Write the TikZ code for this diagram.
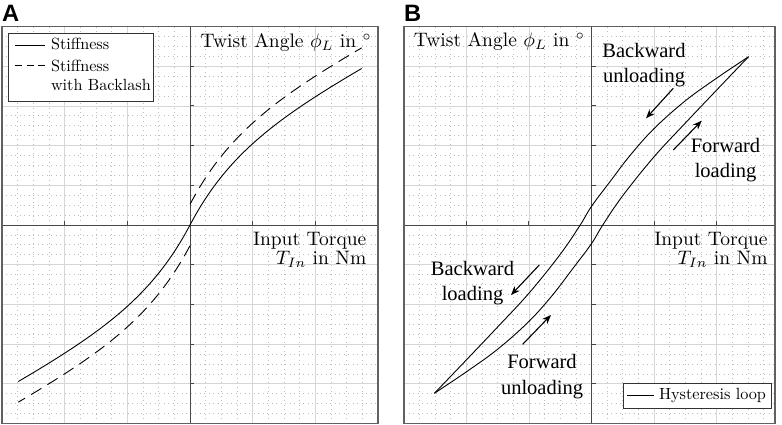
\documentclass[tikz,border=0pt]{standalone}
\usepackage{fontspec}
\newfontfamily\timesfont{Liberation Serif}
\newfontfamily\arialfont{Liberation Sans}
\usetikzlibrary{arrows.meta}
\begin{document}
\begin{tikzpicture}[x=1pt,y=1pt,
  majorgrid/.style={draw=black!16, line width=0.7pt},
  minorgrid/.style={draw=black!26, line width=0.7pt, dash pattern=on 0.7pt off 3.8pt},
  axisline/.style={draw=black!72, line width=0.9pt},
  framebox/.style={draw=black!62, line width=1.4pt},
  curve/.style={draw=black, line width=0.9pt},
  dcurve/.style={curve, dash pattern=on 12pt off 7pt},
  legbox/.style={draw=black!80, line width=1.1pt, fill=white, inner sep=0pt},
  lbl/.style={inner sep=0pt, font=\fontsize{10}{10}\selectfont, scale=1.95, transform shape},
  leg/.style={inner sep=0pt, font=\fontsize{10}{12}\selectfont, scale=1.62, transform shape},
  note/.style={inner sep=0pt, align=center, font=\timesfont\fontsize{20.5}{25.5}\selectfont},
  notearrow/.style={draw=black, line width=1.1pt, -{Stealth[length=9pt,width=7pt]}},
  panellabel/.style={inner sep=0pt, font=\arialfont\bfseries\fontsize{23.7}{24}\selectfont}
]
\useasboundingbox (0,0) rectangle (782,425);

% ---------------- Panel A ----------------
\begin{scope}[shift={(190pt,200pt)}, x=62.67pt, y=39.7pt]
  \foreach \k in {-11,...,11} \draw[minorgrid] (\k/4,-5) -- (\k/4,5);
  \foreach \k in {-19,...,19} \draw[minorgrid] (-3,\k/4) -- (3,\k/4);
  \foreach \i in {-2,-1,1,2} \draw[majorgrid] (\i,-5) -- (\i,5);
  \foreach \j in {-4,-3,-2,-1,1,2,3,4} \draw[majorgrid] (-3,\j) -- (3,\j);
  \draw[axisline] (-3,0) -- (3,0);
  \draw[axisline] (0,-5) -- (0,5);
  \foreach \i in {-2,-1,1,2} \draw[axisline] (\i,0) -- ++(0,4pt);
  \foreach \j in {-4,-3,-2,-1,1,2,3,4} \draw[axisline] (0,\j) -- ++(4pt,0);
  \draw[framebox] (-3,-5) rectangle (3,5);
  % stiffness
  \draw[curve] plot[domain=-2.74:2.74, samples=121] (\x, {sign(\x)*(1.6*(1-exp(-abs(\x)/0.75))+0.87*abs(\x))});
  % stiffness with backlash
  \draw[dcurve] plot[domain=0:2.74, samples=60] (\x, {1.6*(1-exp(-\x/0.75))+0.87*\x+0.52});
  \draw[dcurve] plot[domain=0:-2.74, samples=60] (\x, {-1.6*(1-exp(\x/0.75))+0.87*\x-0.52});
\end{scope}

% legend A
\node[legbox, anchor=north west, minimum width=145pt, minimum height=67.4pt] (legA) at (8.3,391.7) {};
\coordinate (legAas) at (15,379.3);
\coordinate (legAae) at (45,379.3);
\coordinate (legAbs) at (15,359.3);
\coordinate (legAbe) at (45,359.3);
\draw[curve] (legAas) -- (legAae);
\draw[curve, dash pattern=on 7pt off 4.5pt] (legAbs) -- (legAbe);
\node[leg, anchor=base west] (legAat) at (50.7,375) {Stiffness};
\node[leg, anchor=north west, align=left] (legAbt) at (50.7,365.4) {Stiffness\\with Backlash};

\node[lbl, anchor=base east] (twistA) at (372,377) {Twist Angle $\phi_L$ in $^\circ$};
\node[lbl, anchor=north east, align=right] (torqueA) at (366.7,193.3) {Input Torque\\$T_{In}$ in Nm};
\node[panellabel, anchor=base west] (labA) at (2,403) {A};

% ---------------- Panel B ----------------
\begin{scope}[shift={(591.5pt,200pt)}, x=62.6pt, y=39.7pt]
  \foreach \k in {-11,...,11} \draw[minorgrid] (\k/4,-5) -- (\k/4,5);
  \foreach \k in {-19,...,19} \draw[minorgrid] (-2.995,\k/4) -- (2.93,\k/4);
  \foreach \i in {-2,-1,1,2} \draw[majorgrid] (\i,-5) -- (\i,5);
  \foreach \j in {-4,-3,-2,-1,1,2,3,4} \draw[majorgrid] (-2.995,\j) -- (2.93,\j);
  \draw[axisline] (-2.995,0) -- (2.93,0);
  \draw[axisline] (0,-5) -- (0,5);
  \foreach \i in {-2,-1,1,2} \draw[axisline] (\i,0) -- ++(0,4pt);
  \foreach \j in {-4,-3,-2,-1,1,2,3,4} \draw[axisline] (0,\j) -- ++(4pt,0);
  \draw[framebox] (-2.995,-5) rectangle (2.93,5);
  % hysteresis loop
  \draw[curve] plot[smooth, tension=0.6] coordinates {(-2.51,-4.24) (-2,-3.4) (-1.5,-2.57) (-1,-1.72) (-0.5,-0.74) (-0.18,0) (0,0.47) (0.3,1.1) (0.62,1.76) (1,2.43) (1.5,3.13) (2,3.7) (2.51,4.24)};
  \draw[curve] plot[smooth, tension=0.6] coordinates {(2.51,4.24) (2,3.4) (1.5,2.57) (1,1.72) (0.5,0.74) (0.18,0) (0,-0.47) (-0.3,-1.1) (-0.62,-1.76) (-1,-2.43) (-1.5,-3.13) (-2,-3.7) (-2.51,-4.24)};
\end{scope}

% arrows
\coordinate (bus) at (673.3,336.7);
\coordinate (bue) at (646,306.7);
\coordinate (fls) at (673.3,275);
\coordinate (fle) at (701.7,304.3);
\coordinate (bls) at (539.3,160);
\coordinate (ble) at (511,130);
\coordinate (fus) at (522.7,80.7);
\coordinate (fue) at (551,110);
\draw[notearrow] (bus) -- (bue);
\draw[notearrow] (fls) -- (fle);
\draw[notearrow] (bls) -- (ble);
\draw[notearrow] (fus) -- (fue);

\node[note, anchor=north] (bu) at (644,382) {Backward\\unloading};
\node[note, anchor=north] (fl) at (725.5,287.3) {Forward\\loading};
\node[note, anchor=north] (bl) at (472.5,164) {Backward\\loading};
\node[note, anchor=north] (fu) at (542,70.7) {Forward\\unloading};

% legend B
\node[legbox, anchor=north west, minimum width=148.6pt, minimum height=25pt] (legB) at (622.7,41.7) {};
\coordinate (legBs) at (627,29.7);
\coordinate (legBe) at (653.7,29.7);
\draw[curve] (legBs) -- (legBe);
\node[leg, anchor=base west] (legBt) at (658.7,25) {Hysteresis loop};

\node[lbl, anchor=base east] (twistB) at (585.3,378.3) {Twist Angle $\phi_L$ in $^\circ$};
\node[lbl, anchor=north east, align=right] (torqueB) at (768,193.3) {Input Torque\\$T_{In}$ in Nm};
\node[panellabel, anchor=base west] (labB) at (404,403) {B};
\end{tikzpicture}
\end{document}
